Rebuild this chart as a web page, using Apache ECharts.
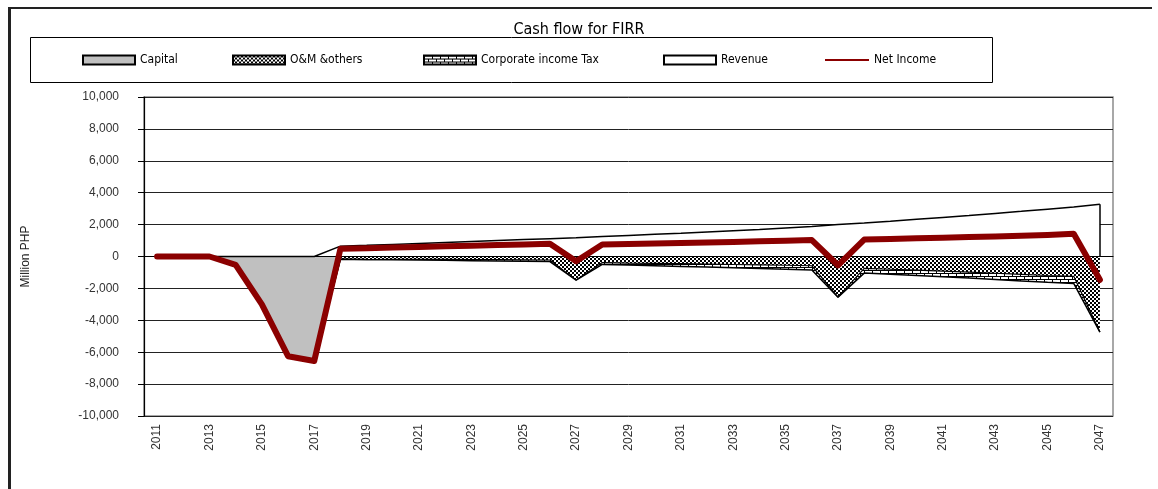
<!DOCTYPE html>
<html>
<head>
<meta charset="utf-8">
<title>Cash flow for FIRR</title>
<script src="https://cdn.jsdelivr.net/npm/echarts@6/dist/echarts.min.js"></script>
<style>
  html, body { margin: 0; padding: 0; background: #fff; }
  #chart { width: 1158px; height: 489px; }
</style>
</head>
<body>
<div id="chart"></div>
<script>
// years on the category axis
var years = [];
for (var y = 2011; y <= 2047; y++) years.push(String(y));

// values (Million PHP)
var capital = [0, 0, 0, -520, -3000, -6250, -6550,
  0, 0, 0, 0, 0, 0, 0, 0, 0, 0,
  0, 0, 0, 0, 0, 0, 0, 0, 0, 0,
  0, 0, 0, 0, 0, 0, 0, 0, 0, 0];
var omOthers = [0, 0, 0, 0, 0, 0, 0,
  -170, -190, -180, -180, -180, -190, -200, -210, -220, -1480,
  -380, -410, -430, -450, -470, -500, -520, -550, -580, -2550,
  -750, -800, -860, -920, -980, -1050, -1120, -1190, -1240, -4740];
var incomeTax = [0, 0, 0, 0, 0, 0, 0,
  0, 0, -20, -40, -60, -70, -80, -90, -100, 0,
  -120, -130, -150, -170, -190, -210, -230, -250, -270, 0,
  -290, -310, -330, -350, -370, -390, -410, -430, -450, 0];
var revenue = [0, 0, 0, 0, 0, 0, 0,
  650, 700, 760, 820, 880, 940, 1000, 1060, 1120, 1180,
  1250, 1320, 1390, 1460, 1540, 1620, 1700, 1790, 1880, 2000,
  2100, 2210, 2330, 2450, 2570, 2700, 2830, 2970, 3110, 3280];
var netIncome = [0, 0, 0, -520, -3000, -6250, -6550,
  480, 510, 560, 600, 640, 680, 720, 760, 800, -300,
  750, 780, 810, 840, 880, 910, 950, 990, 1030, -550,
  1060, 1100, 1140, 1180, 1220, 1260, 1300, 1350, 1420, -1460];

var narrow = "'Liberation Sans Narrow', 'DejaVu Sans Condensed', 'Arial Narrow', sans-serif";
var arial = "'Liberation Sans', Arial, sans-serif";

// fill patterns like the excel ones
function makePattern(w, h, draw) {
  var c = document.createElement('canvas');
  c.width = w; c.height = h;
  var ctx = c.getContext('2d');
  ctx.fillStyle = '#fff';
  ctx.fillRect(0, 0, w, h);
  ctx.fillStyle = '#000';
  draw(ctx);
  return { image: c, repeat: 'repeat' };
}
var checker = makePattern(4, 4, function (ctx) {
  ctx.fillRect(0, 0, 2, 2);
  ctx.fillRect(2, 2, 2, 2);
});
var brick = makePattern(8, 6, function (ctx) {
  ctx.fillRect(0, 0, 8, 1);
  ctx.fillRect(0, 1, 1, 2);
  ctx.fillRect(0, 3, 8, 1);
  ctx.fillRect(4, 4, 1, 2);
});

var chart = echarts.init(document.getElementById('chart'));

function legendAt(left, item, w, h) {
  return {
    left: left,
    top: 54,
    padding: 0,
    itemWidth: w,
    itemHeight: h,
    itemGap: 4,
    selectedMode: false,
    textStyle: { fontFamily: narrow, fontSize: 12, color: '#000' },
    data: [item]
  };
}
var swatchStyle = function (fill) {
  return { color: fill, borderColor: '#000', borderWidth: 2 };
};

var last = years.length - 1;

chart.setOption({
  animation: false,
  backgroundColor: '#fff',
  title: {
    text: 'Cash flow for FIRR',
    left: 'center',
    top: 22,
    padding: 0,
    textStyle: { fontFamily: narrow, fontSize: 16, fontWeight: 'normal', color: '#000' }
  },
  legend: [
    legendAt(82, { name: 'Capital', icon: 'rect', itemStyle: swatchStyle('#c0c0c0') }, 52, 9),
    legendAt(232, { name: 'O&M &others', icon: 'rect', itemStyle: swatchStyle(checker) }, 52, 9),
    legendAt(423, { name: 'Corporate income Tax', icon: 'rect', itemStyle: swatchStyle(brick) }, 52, 9),
    legendAt(663, { name: 'Revenue', icon: 'rect', itemStyle: swatchStyle('#fff') }, 52, 9),
    legendAt(825, { name: 'Net Income', icon: 'rect', itemStyle: { color: '#8b0000', borderWidth: 0 } }, 44, 2)
  ],
  graphic: [
    // outer frame of the chart
    { type: 'rect', shape: { x: 8, y: 7, width: 1144, height: 2 }, style: { fill: '#222' }, silent: true },
    { type: 'rect', shape: { x: 8, y: 7, width: 3, height: 482 }, style: { fill: '#222' }, silent: true },
    // legend box
    { type: 'rect', shape: { x: 30.5, y: 37.5, width: 962, height: 45 }, style: { fill: 'none', stroke: '#000', lineWidth: 1 }, silent: true, z: -1 }
  ],
  grid: {
    left: 144,
    right: 45,
    top: 97,
    bottom: 73,
    show: true,
    borderColor: '#8c8c8c',
    borderWidth: 1.5
  },
  xAxis: [
    {
      // zero line with the ticks
      type: 'category',
      data: years,
      boundaryGap: true,
      z: 5,
      axisLine: { onZero: true, lineStyle: { color: '#000', width: 1.2 } },
      axisTick: { inside: true, length: 4, interval: 0, lineStyle: { color: '#000' } },
      axisLabel: { show: false },
      splitLine: { show: false }
    },
    {
      // labels at the bottom
      type: 'category',
      data: years,
      position: 'bottom',
      boundaryGap: true,
      axisLine: { show: false, onZero: false },
      axisTick: { show: false },
      axisLabel: {
        interval: 1,
        rotate: 90,
        margin: 8,
        fontFamily: arial,
        fontSize: 12,
        color: '#333'
      },
      splitLine: { show: false }
    }
  ],
  yAxis: {
    type: 'value',
    min: -10000,
    max: 10000,
    interval: 2000,
    name: 'Million PHP',
    nameLocation: 'middle',
    nameGap: 112,
    nameRotate: 90,
    nameTextStyle: { fontFamily: arial, fontSize: 12, color: '#222' },
    axisLine: { show: true, lineStyle: { color: '#000', width: 1.2 } },
    axisTick: { show: true, length: 6, lineStyle: { color: '#000' } },
    axisLabel: {
      margin: 25,
      fontFamily: arial,
      fontSize: 12,
      color: '#333',
      formatter: function (v) { return v.toLocaleString('en-US'); }
    },
    splitLine: { show: true, lineStyle: { color: '#222', width: 1 } }
  },
  series: [
    {
      name: 'Capital',
      type: 'line',
      stack: 'cost',
      data: capital,
      symbol: 'none',
      itemStyle: { color: '#c0c0c0' },
      lineStyle: { color: '#000', width: 1.2 },
      areaStyle: { color: '#c0c0c0', opacity: 1 }
    },
    {
      name: 'O&M &others',
      type: 'line',
      stack: 'cost',
      data: omOthers,
      symbol: 'none',
      itemStyle: { color: '#666' },
      lineStyle: { color: '#000', width: 1.2 },
      areaStyle: { color: checker, opacity: 1 }
    },
    {
      name: 'Corporate income Tax',
      type: 'line',
      stack: 'cost',
      data: incomeTax,
      symbol: 'none',
      itemStyle: { color: '#999' },
      lineStyle: { color: '#000', width: 1.5 },
      areaStyle: { color: brick, opacity: 1 }
    },
    {
      name: 'Revenue',
      type: 'line',
      data: revenue,
      symbol: 'none',
      itemStyle: { color: '#fff' },
      lineStyle: { color: '#000', width: 1.5 },
      areaStyle: { color: '#fff', opacity: 1 },
      // closing edge of the area at the last year
      markLine: {
        silent: true,
        symbol: 'none',
        label: { show: false },
        lineStyle: { color: '#000', width: 1.5, type: 'solid' },
        data: [[{ coord: [years[last], 0] }, { coord: [years[last], revenue[last]] }]]
      }
    },
    {
      name: 'Net Income',
      type: 'line',
      data: netIncome,
      symbol: 'none',
      z: 10,
      itemStyle: { color: '#8b0000' },
      lineStyle: { color: '#8b0000', width: 6, join: 'round', cap: 'round' }
    }
  ]
});
</script>
</body>
</html>
